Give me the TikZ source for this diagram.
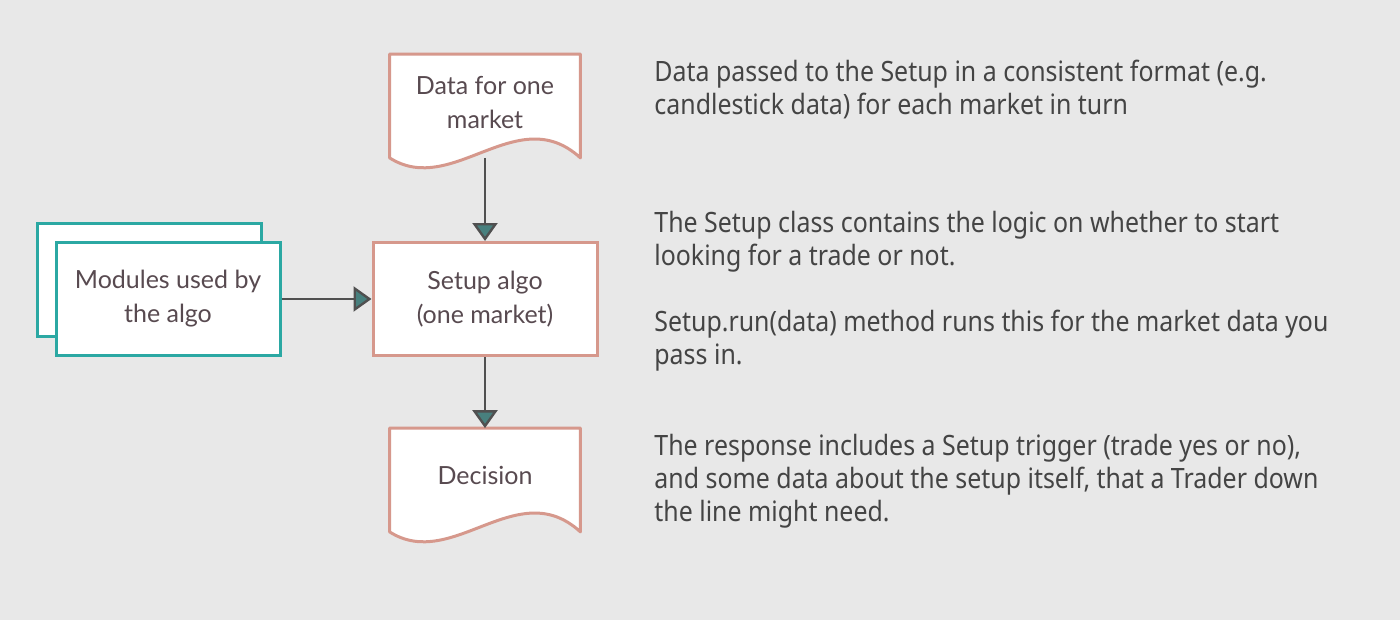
\documentclass[tikz,border=0pt]{standalone}
\usepackage{fontspec}
\setmainfont[FakeStretch=0.89]{Noto Sans}
\newfontfamily\boxfont{Lato}
\usetikzlibrary{arrows.meta,calc}
\definecolor{S}{RGB}{214,152,140}
\definecolor{T}{RGB}{43,168,163}
\definecolor{F}{RGB}{88,74,80}
\definecolor{K}{RGB}{232,232,232}
\definecolor{A}{RGB}{80,80,80}
\definecolor{P}{RGB}{72,128,126}
\definecolor{N}{RGB}{68,68,68}

\begin{document}
\begin{tikzpicture}[x=0.5pt,y=-0.5pt,
    caja/.style={draw=S, line width=1.5pt, fill=white, minimum width=112pt, minimum height=56.5pt,
        align=center, text=F, font=\boxfont\fontsize{12.5}{17}\selectfont},
    modulo/.style={caja, draw=T},
    hoja/.style={draw=none, minimum width=95pt, minimum height=51.5pt, align=center, text=F,
        font=\boxfont\fontsize{12.5}{17}\selectfont},
    borde/.style={draw=S, line width=1.5pt, fill=white, line join=round},
    flecha/.style={draw=A, line width=1.2pt, -{Triangle[length=9pt,width=12.5pt,fill=P]}},
    nota/.style={anchor=base west, align=left, text=N, inner sep=0pt,
        font=\fontsize{14}{16.5}\selectfont}]
    % Fondo
    \fill[color=K] (0,0) rectangle (1400,620);
    \useasboundingbox (0,0) rectangle (1400,620);

    % Hoja de datos (arriba)
    \node[hoja] (data) at (485,106) {};
    \draw[borde] (data.south west) -- (data.north west) -- (data.north east) -- (data.south east)
        .. controls ($(data.south east)+(-63,-58)$) and ($(data.south west)+(63,40)$) .. (data.south west) -- cycle;
    \node[hoja] at ($(data)+(0,-3)$) {Data for one\\market};

    % Caja central
    \node[caja] (setup) at (485,299) {Setup algo\\(one market)};

    % Modulos (dos cajas, una detras)
    \node[modulo] (modback) at (149,280) {};
    \node[modulo] (modules) at (168,299) {Modules used by\\the algo};

    % Hoja de decision (abajo)
    \node[hoja] (decision) at (485,480) {};
    \draw[borde] (decision.south west) -- (decision.north west) -- (decision.north east) -- (decision.south east)
        .. controls ($(decision.south east)+(-63,-58)$) and ($(decision.south west)+(63,40)$) .. (decision.south west) -- cycle;
    \node[hoja] at ($(decision)+(0,-5)$) {Decision};

    % Flechas
    \draw[flecha] (data.south) -- (setup.north);
    \draw[flecha] (modules.east) -- (setup.west);
    \draw[flecha] (setup.south) -- (decision.north);

    % Textos de la derecha (base = ultima linea)
    \node[nota] (descdata) at (654,115) {Data passed to the Setup in a consistent format (e.g.\\candlestick data) for each market in turn};
    \node[nota] (descsetup) at (654,364) {The Setup class contains the logic on whether to start\\looking for a trade or not.\\[16.5pt]Setup.run(data) method runs this for the market data you\\pass in.};
    \node[nota] (descdecision) at (654,521) {The response includes a Setup trigger (trade yes or no),\\and some data about the setup itself, that a Trader down\\the line might need.};
\end{tikzpicture}
\end{document}
